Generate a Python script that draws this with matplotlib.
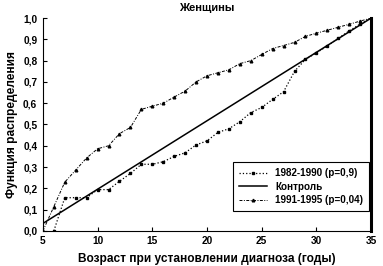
import matplotlib.pyplot as plt

plt.rcParams['font.family'] = ['Liberation Sans', 'DejaVu Sans']
plt.rcParams['font.weight'] = 'bold'

# 1982-1990 (lower curve)
x_8290 = [6, 7, 8, 9, 10, 11, 12, 13, 14, 15, 16, 17, 18, 19, 20,
          21, 22, 23, 24, 25, 26, 27, 28, 29, 30, 31, 32, 33, 34, 35]
y_8290 = [0.0, 0.156, 0.156, 0.156, 0.194, 0.194, 0.233, 0.27, 0.313, 0.313,
          0.325, 0.35, 0.367, 0.404, 0.423, 0.463, 0.48, 0.513, 0.556, 0.58,
          0.618, 0.654, 0.75, 0.806, 0.837, 0.869, 0.905, 0.94, 0.972, 1.0]

# 1991-1995 (upper curve)
x_9195 = [5, 6, 7, 8, 9, 10, 11, 12, 13, 14, 15, 16, 17, 18, 19, 20,
          21, 22, 23, 24, 25, 26, 27, 28, 29, 30, 31, 32, 33, 34, 35]
y_9195 = [0.0, 0.114, 0.229, 0.286, 0.343, 0.386, 0.40, 0.457, 0.486, 0.571,
          0.586, 0.60, 0.629, 0.657, 0.70, 0.729, 0.743, 0.757, 0.786, 0.80,
          0.829, 0.857, 0.871, 0.886, 0.914, 0.929, 0.943, 0.957, 0.971, 0.986, 1.0]

# control
x_ctrl = [5, 35]
y_ctrl = [0.035, 1.0]

xticks = [5, 10, 15, 20, 25, 30, 35]
yticks = [0.0, 0.1, 0.2, 0.3, 0.4, 0.5, 0.6, 0.7, 0.8, 0.9, 1.0]
ylabels = ['0,0', '0,1', '0,2', '0,3', '0,4', '0,5', '0,6', '0,7', '0,8', '0,9', '1,0']

fig = plt.figure(figsize=(3.83, 2.66), dpi=100)
ax = fig.add_axes([0.112, 0.132, 0.857, 0.80])

ax.plot(x_8290, y_8290, color='black', linestyle=':', linewidth=0.9,
        marker='s', markersize=1.5, label='1982-1990 (p=0,9)')
ax.plot(x_ctrl, y_ctrl, color='black', linestyle='-', linewidth=1.1,
        label='Контроль')
ax.plot(x_9195, y_9195, color='black', linestyle=(0, (3, 1.5, 1, 1.5)), linewidth=0.7,
        marker='^', markersize=1.9, label='1991-1995 (p=0,04)')

ax.set_xlim(5, 35)
ax.set_ylim(0, 1.0)
ax.set_xticks(xticks)
ax.set_yticks(yticks)
ax.set_yticklabels(ylabels)
ax.tick_params(direction='in', length=3, labelsize=7.3, width=0.8, pad=4)

ax.spines['top'].set_visible(False)
ax.spines['right'].set_linewidth(2.2)
ax.spines['left'].set_linewidth(0.8)
ax.spines['bottom'].set_linewidth(0.8)

ax.set_title('Женщины', fontsize=8, fontweight='bold', pad=5)
ax.set_xlabel('Возраст при установлении диагноза (годы)', fontsize=8.6, fontweight='bold', labelpad=5)
ax.set_ylabel('Функция распределения', fontsize=8.6, fontweight='bold', labelpad=4)

leg = ax.legend(loc='lower right', bbox_to_anchor=(1.008, 0.07), fontsize=7.1,
                fancybox=False, framealpha=1, edgecolor='black',
                handlelength=2.8, borderpad=0.6, labelspacing=0.35)
leg.get_frame().set_linewidth(0.8)

fig.savefig('out.png', dpi=100)
